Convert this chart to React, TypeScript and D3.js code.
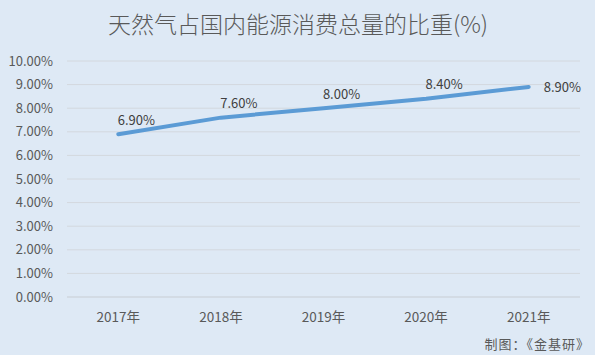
import React from "react";
import * as d3 from "d3";

const categories = ["2017年", "2018年", "2019年", "2020年", "2021年"];
const values = [6.9, 7.6, 8.0, 8.4, 8.9];
const yTicks = [0, 1, 2, 3, 4, 5, 6, 7, 8, 9, 10];
const title = "天然气占国内能源消费总量的比重(%)";
const source = "制图：《金基研》";

const W = 595, H = 355;
const left = 67, right = 580, top = 61, bottom = 297;
const font = "'Microsoft YaHei', 'Noto Sans CJK SC', 'DejaVu Sans', sans-serif";

export default function App() {
  const x = d3.scaleBand<string>().domain(categories).range([left, right]);
  const y = d3.scaleLinear().domain([0, 10]).range([bottom, top]);
  const cx = (c: string) => (x(c) as number) + x.bandwidth() / 2;
  const line = d3.line<number>().x((_, i) => cx(categories[i])).y((v) => y(v));
  return (
    <svg width={W} height={H} style={{ position: "absolute", left: 0, top: 0 }}>
      <rect x={0} y={0} width={W} height={H} fill="#dee9f5" />
      <text x={298} y={33} textAnchor="middle" fontSize={23} fontWeight={300} fill="#595959" fontFamily={font}>{title}</text>
      {yTicks.map((t) => (
        <g key={t}>
          <line x1={left} x2={right} y1={y(t)} y2={y(t)} stroke={t === 0 ? "#c8cdd3" : "#d3d8de"} strokeWidth={1} />
          <text x={53} y={y(t)} dy="0.35em" textAnchor="end" fontSize={13} fill="#595959" fontFamily={font}>{t.toFixed(2)}%</text>
        </g>
      ))}
      {categories.map((c) => (
        <text key={c} x={cx(c)} y={322} textAnchor="middle" fontSize={13.5} fill="#595959" fontFamily={font}>{c}</text>
      ))}
      <path d={line(values) || ""} fill="none" stroke="#5b9bd5" strokeWidth={4} strokeLinecap="round" strokeLinejoin="round" />
      {values.map((v, i) => {
        const last = i === values.length - 1;
        const px = cx(categories[i]);
        const py = y(v);
        return (
          <text key={i} x={last ? px + 15 : px + 18} y={last ? py : py - 14} dy="0.35em" textAnchor={last ? "start" : "middle"} fontSize={13} fill="#404040" fontFamily={font}>{v.toFixed(2)}%</text>
        );
      })}
      <text x={590} y={349} textAnchor="end" fontSize={13} letterSpacing={1} fill="#595959" fontFamily={font}>{source}</text>
    </svg>
  );
}
